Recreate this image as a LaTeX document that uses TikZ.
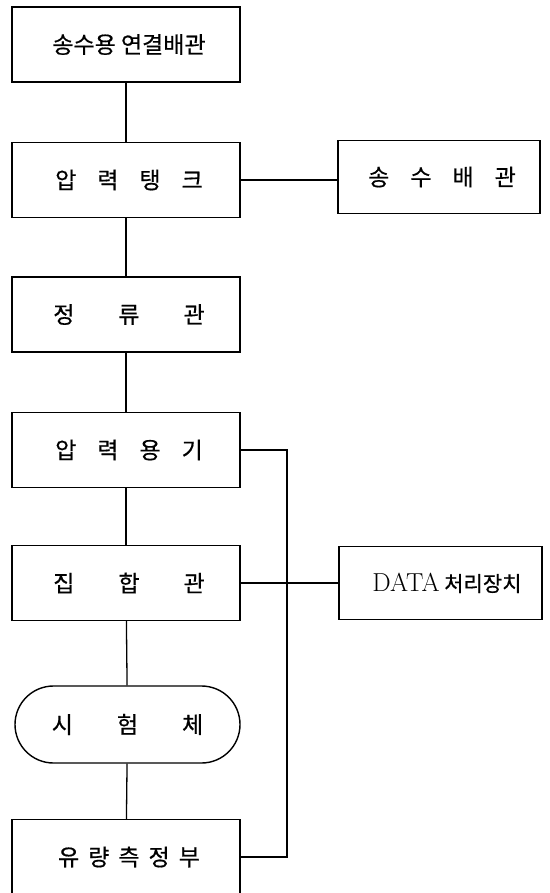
\documentclass[tikz,border=0pt]{standalone}
\usepackage{fontspec}
\newfontfamily\kr[FakeBold=0.6]{Noto Sans CJK KR}
\usetikzlibrary{shapes.misc}
\tikzset{
  boxnode/.style={draw, line width=1.4pt, minimum width=228pt, minimum height=75pt, inner sep=0pt, font=\kr\fontsize{23}{26}\selectfont},
  sidebox/.style={draw, line width=1.4pt, minimum width=202pt, minimum height=73pt, inner sep=0pt, font=\kr\fontsize{23}{26}\selectfont},
  pill/.style={draw, line width=1.4pt, rounded rectangle, minimum width=225pt, minimum height=77pt, inner sep=0pt, font=\kr\fontsize{23}{26}\selectfont},
  conn/.style={line width=1.3pt}
}
\newcommand{\gapA}{\hspace{21pt}}
\newcommand{\gapB}{\hspace{44pt}}
\newcommand{\gapC}{\hspace{9pt}}
\begin{document}
\begin{tikzpicture}[x=1pt,y=1pt]
\useasboundingbox (0,0) rectangle (549,-893);
\clip (0,0) rectangle (549,-893);
\node[boxnode] (b1) at (126,-44.5) {\hspace{6pt}송수용 연결배관};
\node[boxnode] (b2) at (126,-180) {\hspace{6pt}압\gapA 력\gapA 탱\gapA 크};
\node[boxnode] (b3) at (126,-314.5) {\hspace{6pt}정\gapB 류\gapB 관};
\node[boxnode] (b4) at (126,-450) {\hspace{6pt}압\gapA 력\gapA 용\gapA 기};
\node[boxnode] (b5) at (126,-583) {\hspace{6pt}집\gapB 합\gapB 관};
\node[pill] (b6) at (127.5,-724.5) {시\gapB 험\gapB 체};
\node[boxnode] (b7) at (126,-857) {\hspace{6pt}유\gapC 량\gapC 측\gapC 정\gapC 부};
\node[sidebox] (s1) at (439,-177) {\hspace{6pt}송\gapA 수\gapA 배\gapA 관};
\node[sidebox, minimum width=203pt, font=\kr\fontsize{21}{24}\selectfont] (s2) at (440.5,-583) {\hspace{13pt}{\fontsize{26}{28}\selectfont\rmfamily DATA} 처리장치};
\coordinate (c1) at (287,-450);
\coordinate (c2) at (287,-857);
\draw[conn] (b1) -- (b2);
\draw[conn] (b2) -- (b3);
\draw[conn] (b3) -- (b4);
\draw[conn] (b4) -- (b5);
\draw[conn] (b5) -- (b6);
\draw[conn] (b6) -- (b7);
\draw[conn] (b2.east) -- (s1.west |- b2.east);
\draw[conn] (b5) -- (s2);
\draw[conn] (b4.east) -- (c1) -- (c2) -- (b7.east);
\end{tikzpicture}
\end{document}
